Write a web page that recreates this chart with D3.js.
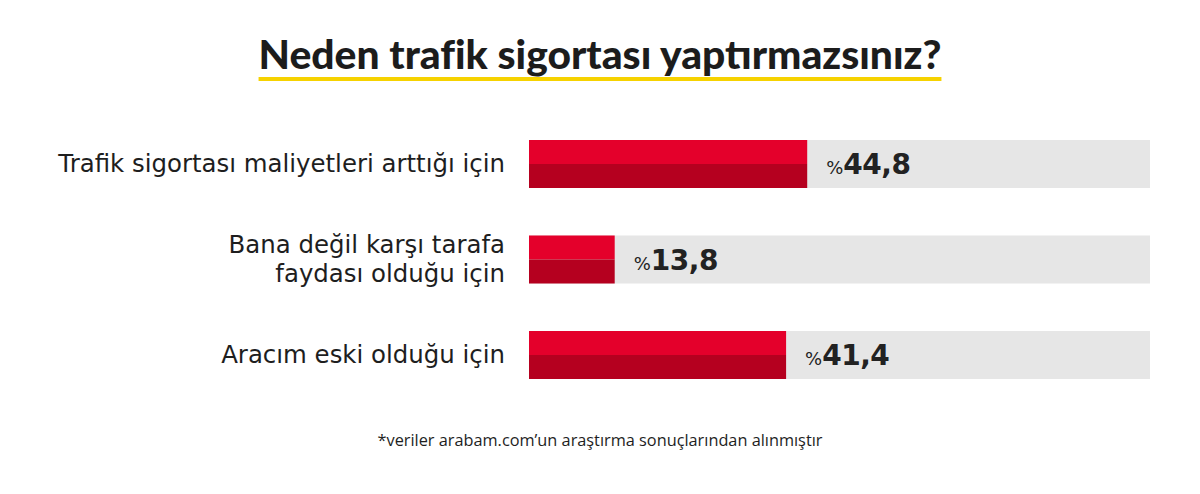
<!DOCTYPE html>
<html lang="tr">
<head>
	<meta charset="utf-8">
	<title>Neden trafik sigortası yaptırmazsınız?</title>
	<script src='https://d3js.org/d3.v7.min.js'></script>
	<style>
		body {margin:0; background:#fff;}
		svg {display:block;}
	</style>
</head>
<body>
	<div id="chart"></div>
	<script>
		// chart data
		const categories = [
			["Trafik sigortası maliyetleri arttığı için"],
			["Bana değil karşı tarafa", "faydası olduğu için"],
			["Aracım eski olduğu için"]
		];
		const values = [44.8, 13.8, 41.4];
		const valueLabels = ["44,8", "13,8", "41,4"];
		const titleText = "Neden trafik sigortası yaptırmazsınız?";
		const noteText = "*veriler arabam.com\u2019un araştırma sonuçlarından alınmıştır";

		const width = 1200;
		const height = 494;

		var svg = d3.select("#chart")
					.append("svg")
					.attr("width", width)
					.attr("height", height);

		// scales
		var x = d3.scaleLinear()
					.domain([0, 100])
					.range([529, 1150]);
		var barH = 48;
		var step = 95.5;
		function barY(i) { return 140 + i * step; }

		// shrink/grow a text so it is as wide as the original
		function fitWidth(sel, target) {
			var fs = parseFloat(sel.style("font-size"));
			var w = sel.node().getBBox().width;
			sel.style("font-size", (fs * target / w) + "px");
		}

		// title + underline
		var title = svg.append("text")
					.attr("x", width / 2)
					.attr("y", 69)
					.attr("text-anchor", "middle")
					.style("font-family", "Lato, 'Noto Sans', sans-serif")
					.style("font-weight", 900)
					.style("font-size", "36px")
					.style("fill", "#1c1c1c")
					.text(titleText);
		fitWidth(title, 683);
		var tb = title.node().getBBox();
		svg.insert("rect", "text")
			.attr("x", tb.x)
			.attr("y", 77)
			.attr("width", tb.width)
			.attr("height", 4)
			.attr("fill", "#f6d200");

		var g = svg.selectAll("g.bar")
					.data(values)
					.enter()
					.append("g")
					.attr("class", "bar")
					.attr("transform", function (d, i) {
						return "translate(0," + barY(i) + ")";
					});

		// grey background track
		g.append("rect")
			.attr("x", x(0))
			.attr("width", x(100) - x(0))
			.attr("height", barH)
			.attr("fill", "#e6e6e6");
		// top (bright) half
		g.append("rect")
			.attr("x", x(0))
			.attr("width", function (d) { return x(d) - x(0); })
			.attr("height", barH / 2)
			.attr("fill", "#e4002b");
		// bottom (dark) half
		g.append("rect")
			.attr("x", x(0))
			.attr("y", barH / 2)
			.attr("width", function (d) { return x(d) - x(0); })
			.attr("height", barH / 2)
			.attr("fill", "#b5001f");

		// value labels
		var vt = g.append("text")
			.attr("x", function (d) { return x(d) + 19; })
			.attr("y", barH / 2 + 10)
			.style("font-family", "'DejaVu Sans', sans-serif")
			.style("fill", "#222");
		vt.append("tspan")
			.style("font-size", "18px")
			.text("%");
		vt.append("tspan")
			.attr("dx", 0)
			.style("font-size", "28px")
			.style("font-weight", 700)
			.style("letter-spacing", "-0.5px")
			.text(function (d, i) { return valueLabels[i]; });

		// category labels
		var lt = g.append("text")
			.attr("x", 505)
			.attr("text-anchor", "end")
			.style("font-family", "'DejaVu Sans', sans-serif")
			.style("font-size", "22px")
			.style("fill", "#1e1e1e");
		lt.selectAll("tspan")
			.data(function (d, i) { return categories[i].map(function (s, j) { return [s, j, categories[i].length]; }); })
			.enter()
			.append("tspan")
			.attr("x", 505)
			.attr("y", function (d) { return barH / 2 + 8 + (d[1] - (d[2] - 1) / 2) * 29; })
			.text(function (d) { return d[0]; });
		var first = d3.select(lt.nodes()[0]);
		fitWidth(first, 448);
		lt.style("font-size", first.style("font-size"));

		// footnote
		var note = svg.append("text")
			.attr("x", width / 2)
			.attr("y", 446)
			.attr("text-anchor", "middle")
			.style("font-family", "'Open Sans', sans-serif")
			.style("font-size", "16px")
			.style("fill", "#1e1e1e")
			.text(noteText);
		fitWidth(note, 446);
	</script>
</body>
</html>
